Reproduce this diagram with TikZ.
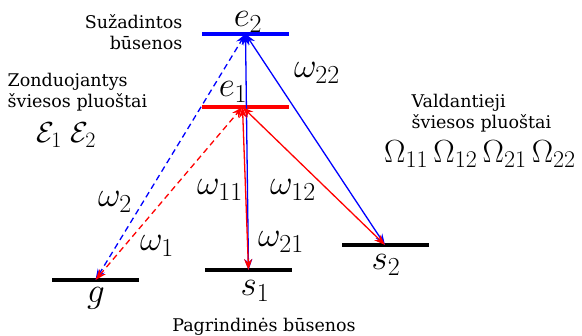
\documentclass[tikz,border=0pt]{standalone}
\usepackage{fix-cm}
\usepackage{fontspec}
\setmainfont{DejaVu Serif}
\usetikzlibrary{positioning, arrows.meta}
\DeclareMathSizes{35}{35}{26}{19}
\DeclareMathSizes{32}{32}{24}{18}
\DeclareMathSizes{29}{29}{22}{16}

\begin{document}
\begin{tikzpicture}[x=1pt, y=-1pt, <->, >={Stealth[length=11pt, width=8pt]},
      line width=1.3pt,
      level/.style={fill=#1, minimum width=87pt, minimum height=3.8pt, inner sep=0pt},
      lvl/.style={font=\fontsize{35}{40}\selectfont, inner sep=0pt, anchor=base},
      beam/.style={font=\fontsize{#1}{34}\selectfont, inner sep=0pt, anchor=base},
      txt/.style={font=\fontsize{17.5}{21}\selectfont, inner sep=0pt},
      probe/.style={dash pattern=on 6pt off 4pt}]
    \useasboundingbox (0,0) rectangle (582,336);

    % energy levels
    \node[level=blue] (e2) at (245.5,34) {};
    \node[level=red] (e1) at (245.5,107) {};
    \node[level=black] (g) at (95.5,280) {};
    \node[level=black] (s1) at (248.5,270) {};
    \node[level=black] (s2) at (385,245) {};

    \node[lvl] (le2) at (248,27) {$e_2$};
    \node[lvl] (le1) at (233,97) {$e_1$};
    \node[lvl] (lg) at (96,303) {$g$};
    \node[lvl] (ls1) at (255,296) {$s_1$};
    \node[lvl] (ls2) at (386,270) {$s_2$};

    % transitions
    \path (g.center) edge [blue, probe] (e2.center)
          (g.center) edge [red, probe] ([xshift=-3pt]e1.center)
          (e2.center) edge [blue] (s1.center)
          ([xshift=-3pt]e1.center) edge [red] (s1.center)
          (e2.center) edge [blue] (s2.center)
          ([xshift=-3pt]e1.center) edge [red] (s2.center);

    \node[lvl] (w2) at (115,207) {$\omega_2$};
    \node[lvl] (w1) at (157,251) {$\omega_1$};
    \node[lvl] (w11) at (220,195) {$\omega_{11}$};
    \node[lvl] (w12) at (293,195) {$\omega_{12}$};
    \node[lvl] (w21) at (281,247) {$\omega_{21}$};
    \node[lvl] (w22) at (317,78) {$\omega_{22}$};

    % captions
    \node[txt, align=right, anchor=east] (excited) at (183,32) {Sužadintos\\būsenos};
    \node[txt, align=left, anchor=west] (probes) at (7,92) {Zonduojantys\\šviesos pluoštai};
    \node[beam=29] (eps) at (66,143) {$\mathcal{E}_1\;\mathcal{E}_2$};
    \node[txt, align=left, anchor=west] (controls) at (411,113) {Valdantieji\\šviesos pluoštai};
    \node[beam=32] (om) at (480,163) {$\Omega_{11}\,\Omega_{12}\,\Omega_{21}\,\Omega_{22}$};
    \node[txt, anchor=base] (ground) at (264,332) {Pagrindinės būsenos};
  \end{tikzpicture}
\end{document}
